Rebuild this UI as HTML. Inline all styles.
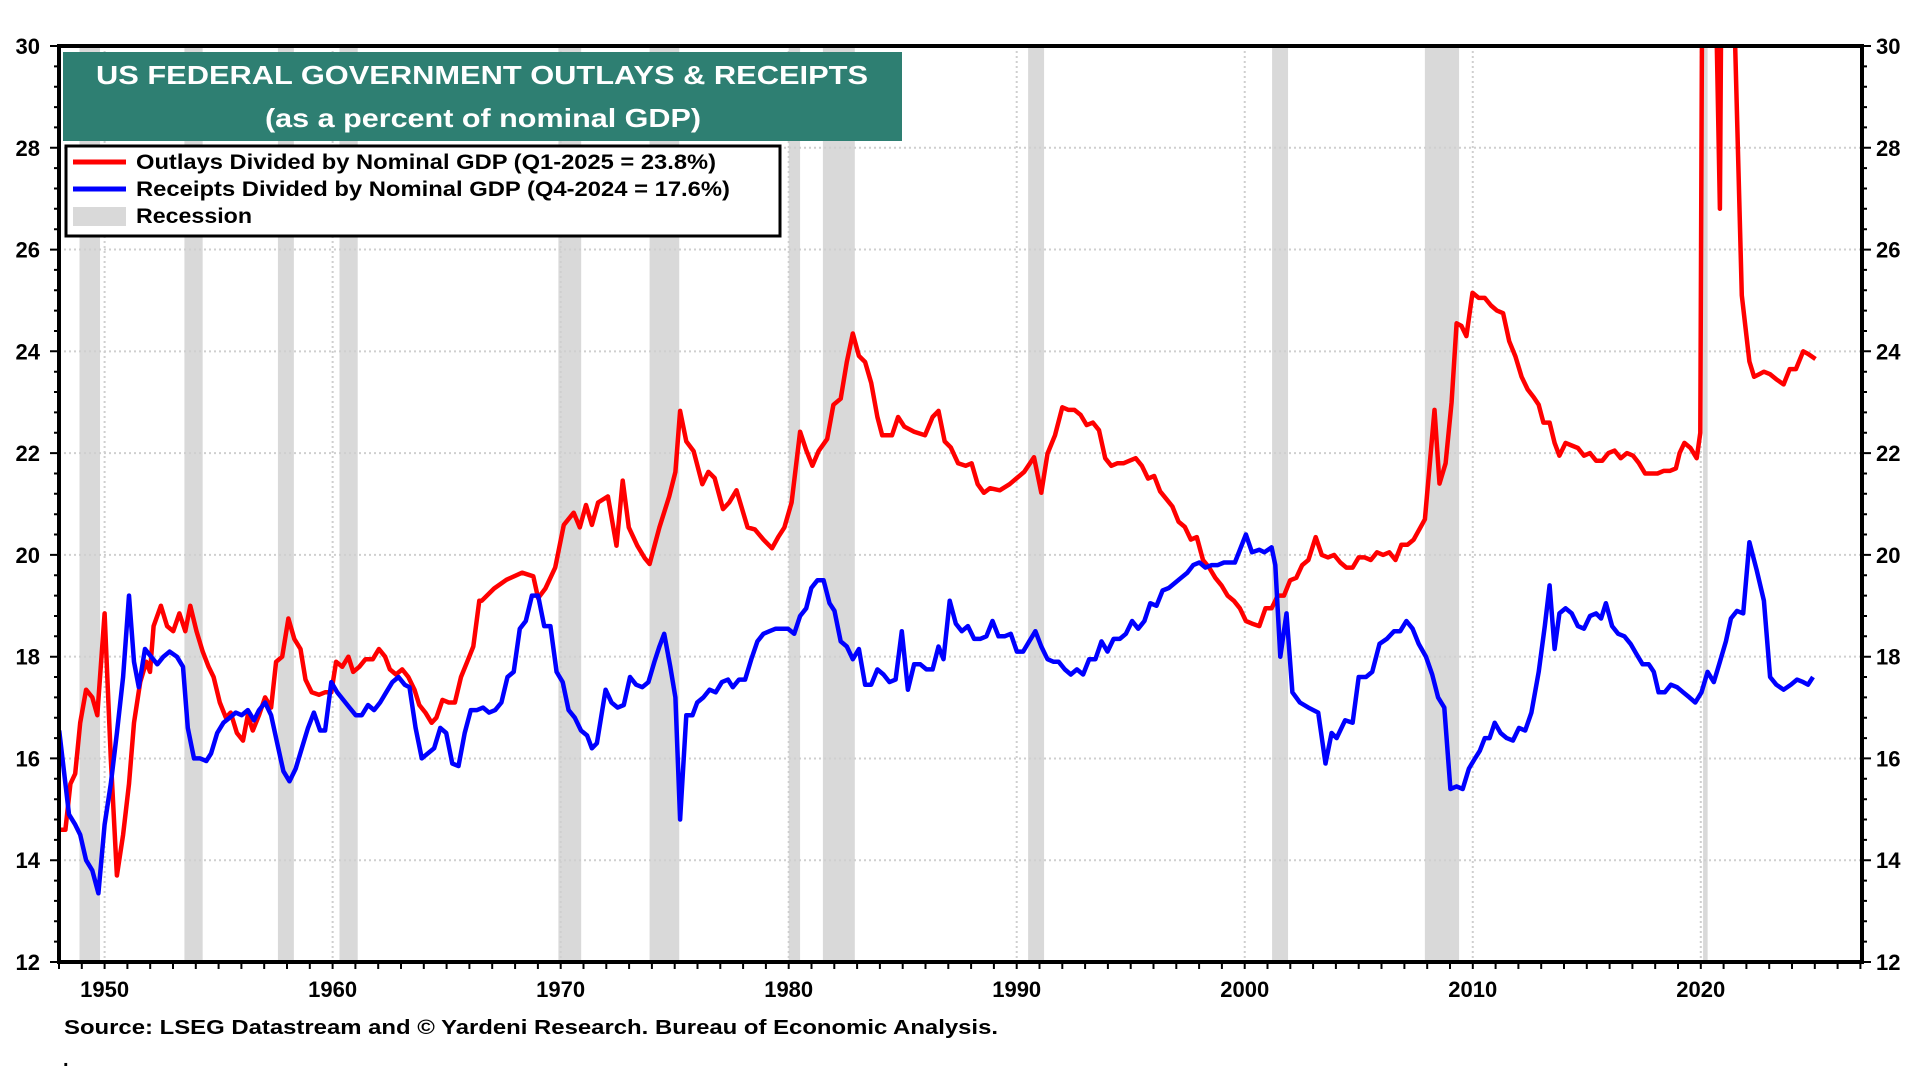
<!DOCTYPE html>
<html><head><meta charset="utf-8"><style>
html,body{margin:0;padding:0;background:#fff;}
svg{display:block;font-family:"Liberation Sans",Arial,sans-serif;font-weight:bold;}
</style></head><body>
<svg id="chart" width="1920" height="1080" viewBox="0 0 1920 1080" xmlns="http://www.w3.org/2000/svg">
<defs><clipPath id="plotclip"><rect x="59" y="46" width="1803" height="916"/></clipPath></defs>
<g id="bands" clip-path="url(#plotclip)"></g>
<g id="grid"></g>
<g id="series" clip-path="url(#plotclip)"></g>
<g id="axes"></g>
<g>
<rect x="63" y="52" width="839" height="89" fill="#2e7f72"/>
<text x="482" y="84" fill="#fff" font-size="26" text-anchor="middle" textLength="772" lengthAdjust="spacingAndGlyphs">US FEDERAL GOVERNMENT OUTLAYS &amp; RECEIPTS</text>
<text x="483" y="127" fill="#fff" font-size="26" font-weight="normal" style="font-weight:bold" text-anchor="middle" textLength="436" lengthAdjust="spacingAndGlyphs">(as a percent of nominal GDP)</text>
</g>
<g>
<rect x="66" y="146" width="714" height="90" fill="#fff" stroke="#000" stroke-width="3"/>
<line x1="73" y1="162" x2="126" y2="162" stroke="#ff0000" stroke-width="5"/>
<text x="136" y="169" font-size="21" textLength="580" lengthAdjust="spacingAndGlyphs">Outlays Divided by Nominal GDP (Q1-2025 = 23.8%)</text>
<line x1="73" y1="189" x2="126" y2="189" stroke="#0000ff" stroke-width="5"/>
<text x="136" y="196" font-size="21" textLength="594" lengthAdjust="spacingAndGlyphs">Receipts Divided by Nominal GDP (Q4-2024 = 17.6%)</text>
<rect x="73" y="207" width="53" height="19" fill="#d9d9d9"/>
<text x="136" y="223" font-size="21" textLength="116" lengthAdjust="spacingAndGlyphs">Recession</text>
</g>
<text x="64" y="1034" font-size="20" textLength="934" lengthAdjust="spacingAndGlyphs">Source: LSEG Datastream and © Yardeni Research. Bureau of Economic Analysis.</text>
<text x="63" y="1066" font-size="20">.</text>
</svg>
<script>
const recessionStarts=[1948.9,1953.5,1957.6,1960.3,1969.9,1973.9,1980.0,1981.5,1990.5,2001.2,2007.9,2020.1];
const recessionEnds=[1949.8,1954.3,1958.3,1961.1,1970.9,1975.2,1980.5,1982.9,1991.2,2001.9,2009.4,2020.3];
const xTickLabels=[1950,1960,1970,1980,1990,2000,2010,2020];
const yTickLabels=[12,14,16,18,20,22,24,26,28,30];
const outlayYears=[1948.01,1948.28,1948.5,1948.71,1948.93,1949.19,1949.46,1949.68,1950.0,1950.27,1950.54,1950.81,1951.07,1951.29,1951.56,1951.83,1951.99,1952.15,1952.47,1952.74,1953.01,1953.28,1953.54,1953.76,1954.03,1954.3,1954.56,1954.78,1955.05,1955.32,1955.53,1955.8,1956.07,1956.28,1956.5,1956.77,1957.04,1957.3,1957.52,1957.79,1958.06,1958.32,1958.59,1958.81,1959.08,1959.4,1959.67,1959.94,1960.15,1960.42,1960.69,1960.9,1961.17,1961.44,1961.76,1962.03,1962.3,1962.51,1962.78,1963.05,1963.32,1963.59,1963.8,1964.07,1964.34,1964.55,1964.82,1965.09,1965.36,1965.63,1965.9,1966.17,1966.43,1966.54,1967.08,1967.62,1968.31,1968.8,1969.01,1969.33,1969.76,1970.14,1970.57,1970.84,1971.11,1971.37,1971.64,1972.07,1972.45,1972.72,1972.99,1973.36,1973.68,1973.9,1974.33,1974.76,1975.03,1975.24,1975.51,1975.83,1976.21,1976.48,1976.75,1977.12,1977.39,1977.71,1978.2,1978.52,1978.89,1979.27,1979.54,1979.81,1980.13,1980.5,1980.77,1981.04,1981.31,1981.69,1981.96,1982.28,1982.55,1982.81,1983.08,1983.35,1983.62,1983.89,1984.1,1984.53,1984.8,1985.07,1985.5,1985.98,1986.31,1986.57,1986.84,1987.11,1987.43,1987.76,1988.02,1988.29,1988.56,1988.83,1989.26,1989.69,1990.01,1990.33,1990.76,1991.08,1991.35,1991.68,1992.0,1992.27,1992.53,1992.8,1993.07,1993.34,1993.61,1993.88,1994.15,1994.41,1994.68,1994.95,1995.22,1995.49,1995.76,1996.03,1996.29,1996.56,1996.83,1997.1,1997.37,1997.64,1997.9,1998.17,1998.44,1998.71,1998.98,1999.25,1999.52,1999.79,2000.05,2000.32,2000.64,2000.91,2001.18,2001.45,2001.72,2001.99,2002.26,2002.52,2002.79,2003.11,2003.38,2003.65,2003.92,2004.19,2004.46,2004.73,2005.0,2005.26,2005.53,2005.8,2006.07,2006.34,2006.61,2006.87,2007.14,2007.41,2007.9,2008.32,2008.54,2008.81,2009.07,2009.29,2009.5,2009.72,2009.99,2010.26,2010.53,2010.8,2011.06,2011.33,2011.6,2011.87,2012.14,2012.41,2012.67,2012.89,2013.1,2013.37,2013.59,2013.8,2014.07,2014.34,2014.61,2014.88,2015.14,2015.41,2015.68,2015.95,2016.22,2016.49,2016.76,2017.03,2017.29,2017.56,2017.83,2018.1,2018.37,2018.64,2018.91,2019.07,2019.28,2019.55,2019.82,2019.98,2020.14,2020.35,2020.62,2020.84,2021.0,2021.27,2021.48,2021.8,2022.13,2022.34,2022.56,2022.77,2023.04,2023.31,2023.63,2023.9,2024.17,2024.49,2024.7,2025.03];
const outlayValues=[14.6,14.6,15.5,15.7,16.7,17.35,17.2,16.85,18.85,16.0,13.7,14.5,15.5,16.7,17.5,17.9,17.7,18.6,19.0,18.6,18.5,18.85,18.5,19.0,18.5,18.1,17.8,17.6,17.1,16.8,16.9,16.5,16.35,16.85,16.55,16.85,17.2,17.0,17.9,18.0,18.75,18.35,18.15,17.55,17.3,17.25,17.3,17.3,17.9,17.8,18.0,17.7,17.8,17.95,17.95,18.15,18.0,17.75,17.65,17.75,17.6,17.35,17.05,16.9,16.7,16.8,17.15,17.1,17.1,17.6,17.9,18.2,19.1,19.1,19.34,19.51,19.65,19.58,19.15,19.34,19.75,20.59,20.83,20.54,20.98,20.59,21.03,21.15,20.18,21.46,20.54,20.18,19.94,19.82,20.54,21.15,21.63,22.83,22.23,22.04,21.39,21.63,21.51,20.9,21.03,21.27,20.54,20.5,20.3,20.13,20.35,20.54,21.03,22.42,22.06,21.75,22.04,22.28,22.95,23.07,23.79,24.35,23.91,23.79,23.38,22.71,22.35,22.35,22.71,22.52,22.42,22.35,22.71,22.83,22.23,22.11,21.8,21.75,21.8,21.39,21.22,21.31,21.27,21.39,21.51,21.63,21.92,21.22,21.99,22.35,22.9,22.85,22.85,22.75,22.55,22.6,22.45,21.9,21.75,21.8,21.8,21.85,21.9,21.75,21.5,21.55,21.25,21.1,20.95,20.65,20.55,20.3,20.35,19.9,19.75,19.55,19.4,19.2,19.1,18.95,18.7,18.65,18.6,18.95,18.95,19.2,19.2,19.5,19.55,19.8,19.9,20.35,20.0,19.95,20.0,19.85,19.75,19.75,19.95,19.95,19.9,20.05,20.0,20.05,19.9,20.2,20.2,20.3,20.7,22.85,21.4,21.8,23.0,24.55,24.5,24.3,25.15,25.05,25.05,24.9,24.8,24.75,24.2,23.9,23.5,23.25,23.1,22.95,22.6,22.6,22.2,21.95,22.2,22.15,22.1,21.95,22.0,21.85,21.85,22.0,22.05,21.9,22.0,21.95,21.8,21.6,21.6,21.6,21.65,21.65,21.7,22.0,22.2,22.1,21.9,22.4,40,34,32,26.8,38,33,30.5,25.1,23.8,23.5,23.55,23.6,23.55,23.45,23.35,23.65,23.65,24.0,23.95,23.85];
const receiptYears=[1948.01,1948.44,1948.71,1948.93,1949.19,1949.46,1949.73,1950.0,1950.27,1950.54,1950.81,1951.07,1951.29,1951.5,1951.77,1952.04,1952.31,1952.58,1952.85,1953.17,1953.44,1953.65,1953.92,1954.19,1954.46,1954.67,1954.94,1955.21,1955.48,1955.75,1956.01,1956.28,1956.55,1956.77,1957.04,1957.3,1957.57,1957.84,1958.11,1958.38,1958.65,1958.92,1959.18,1959.45,1959.67,1959.94,1960.2,1960.47,1960.74,1961.01,1961.28,1961.55,1961.82,1962.08,1962.35,1962.62,1962.89,1963.16,1963.37,1963.64,1963.91,1964.18,1964.45,1964.72,1964.98,1965.25,1965.52,1965.79,1966.06,1966.33,1966.6,1966.86,1967.13,1967.4,1967.67,1967.94,1968.21,1968.47,1968.74,1969.01,1969.28,1969.55,1969.82,1970.09,1970.35,1970.62,1970.89,1971.16,1971.37,1971.59,1971.97,1972.23,1972.5,1972.77,1973.04,1973.31,1973.58,1973.85,1974.11,1974.33,1974.54,1974.81,1975.03,1975.24,1975.51,1975.78,1975.99,1976.26,1976.53,1976.8,1977.07,1977.34,1977.55,1977.82,1978.09,1978.36,1978.63,1978.89,1979.16,1979.43,1979.7,1979.97,1980.24,1980.5,1980.77,1980.99,1981.26,1981.53,1981.79,1982.01,1982.28,1982.55,1982.81,1983.08,1983.35,1983.62,1983.89,1984.16,1984.42,1984.69,1984.96,1985.23,1985.5,1985.77,1986.04,1986.31,1986.57,1986.79,1987.06,1987.33,1987.59,1987.86,1988.13,1988.4,1988.67,1988.94,1989.2,1989.47,1989.74,1990.01,1990.28,1990.55,1990.82,1991.08,1991.35,1991.62,1991.84,1992.11,1992.37,1992.64,1992.91,1993.18,1993.45,1993.72,1993.98,1994.25,1994.52,1994.79,1995.06,1995.33,1995.6,1995.86,1996.13,1996.4,1996.67,1996.94,1997.21,1997.48,1997.74,1998.01,1998.28,1998.55,1998.82,1999.09,1999.57,2000.05,2000.32,2000.64,2000.86,2001.18,2001.34,2001.56,2001.83,2002.09,2002.42,2002.79,2003.22,2003.54,2003.81,2004.03,2004.4,2004.73,2005.0,2005.32,2005.59,2005.91,2006.23,2006.55,2006.82,2007.09,2007.36,2007.63,2007.95,2008.22,2008.48,2008.75,2009.02,2009.29,2009.56,2009.83,2010.1,2010.31,2010.53,2010.74,2010.96,2011.22,2011.49,2011.76,2012.03,2012.3,2012.57,2012.89,2013.16,2013.37,2013.59,2013.8,2014.07,2014.34,2014.61,2014.88,2015.14,2015.41,2015.63,2015.84,2016.11,2016.38,2016.65,2016.92,2017.18,2017.45,2017.72,2017.94,2018.15,2018.42,2018.69,2018.96,2019.23,2019.5,2019.76,2020.03,2020.3,2020.57,2020.84,2021.1,2021.32,2021.59,2021.86,2022.13,2022.45,2022.77,2023.04,2023.31,2023.63,2023.95,2024.22,2024.49,2024.7,2024.92];
const receiptValues=[16.55,14.9,14.7,14.5,14.0,13.8,13.35,14.7,15.5,16.5,17.6,19.2,17.9,17.4,18.15,18.0,17.85,18.0,18.1,18.0,17.8,16.6,16.0,16.0,15.95,16.1,16.5,16.7,16.8,16.9,16.85,16.95,16.75,16.95,17.1,16.85,16.3,15.75,15.55,15.8,16.2,16.6,16.9,16.55,16.55,17.5,17.3,17.15,17.0,16.85,16.85,17.05,16.95,17.1,17.3,17.5,17.6,17.45,17.4,16.6,16.0,16.1,16.2,16.6,16.5,15.9,15.85,16.5,16.95,16.95,17.0,16.9,16.95,17.1,17.6,17.7,18.55,18.7,19.2,19.2,18.6,18.6,17.7,17.5,16.95,16.8,16.55,16.45,16.2,16.3,17.35,17.1,17.0,17.05,17.6,17.45,17.4,17.5,17.9,18.2,18.45,17.8,17.2,14.8,16.85,16.85,17.1,17.2,17.35,17.3,17.5,17.55,17.4,17.55,17.55,17.95,18.3,18.45,18.5,18.55,18.55,18.55,18.45,18.8,18.95,19.35,19.5,19.5,19.05,18.9,18.3,18.2,17.95,18.15,17.45,17.45,17.75,17.65,17.5,17.55,18.5,17.35,17.85,17.85,17.75,17.75,18.2,17.95,19.1,18.65,18.5,18.6,18.35,18.35,18.4,18.7,18.4,18.4,18.45,18.1,18.1,18.3,18.5,18.2,17.95,17.9,17.9,17.75,17.65,17.75,17.65,17.95,17.95,18.3,18.1,18.35,18.35,18.45,18.7,18.55,18.7,19.05,19.0,19.3,19.35,19.45,19.55,19.65,19.8,19.85,19.75,19.8,19.8,19.85,19.85,20.4,20.05,20.1,20.05,20.15,19.8,18.0,18.85,17.3,17.1,17.0,16.9,15.9,16.5,16.4,16.75,16.7,17.6,17.6,17.7,18.25,18.35,18.5,18.5,18.7,18.55,18.25,18.0,17.65,17.2,17.0,15.4,15.45,15.4,15.8,16.0,16.15,16.4,16.4,16.7,16.5,16.4,16.35,16.6,16.55,16.9,17.7,18.6,19.4,18.15,18.85,18.95,18.85,18.6,18.55,18.8,18.85,18.75,19.05,18.6,18.45,18.4,18.25,18.05,17.85,17.85,17.7,17.3,17.3,17.45,17.4,17.3,17.2,17.1,17.3,17.7,17.5,17.9,18.3,18.75,18.9,18.85,20.25,19.7,19.1,17.6,17.45,17.35,17.45,17.55,17.5,17.45,17.6];

const NS='http://www.w3.org/2000/svg';
const X0=59,X1=1862,Y0=46,Y1=962,YMIN=12,YMAX=30,T0=1948.0,T1=2027.07;
function xs(t){return X0+(t-T0)/(T1-T0)*(X1-X0);}
function ys(v){return Y1-(v-YMIN)/(YMAX-YMIN)*(Y1-Y0);}
function mk(tag,attrs,parent){const e=document.createElementNS(NS,tag);for(const k in attrs)e.setAttribute(k,attrs[k]);parent.appendChild(e);return e;}
const bands=document.getElementById('bands'),grid=document.getElementById('grid'),series=document.getElementById('series'),axes=document.getElementById('axes');
recessionStarts.forEach((s,i)=>{
 const r=mk('rect',{x:xs(s),y:Y0,width:xs(recessionEnds[i])-xs(s),height:Y1-Y0,fill:'#d9d9d9'},bands);
 
 
});
yTickLabels.forEach(v=>{
 if(v>YMIN&&v<YMAX){const l=mk('line',{x1:X0,x2:X1,y1:ys(v),y2:ys(v),stroke:'#cfcfcf','stroke-width':2,'stroke-dasharray':'2 3'},grid);
 
 }
 const a=mk('text',{x:40,y:ys(v)+8,'font-size':22,'text-anchor':'end'},axes);a.textContent=v;
 
 
 const b=mk('text',{x:1876,y:ys(v)+8,'font-size':22},axes);b.textContent=v;
 
 
});
xTickLabels.forEach(t=>{
 const l=mk('line',{x1:xs(t),x2:xs(t),y1:Y0,y2:Y1,stroke:'#cfcfcf','stroke-width':2,'stroke-dasharray':'2 3'},grid);
 
 
 const a=mk('text',{x:xs(t),y:997,'font-size':22,'text-anchor':'middle'},axes);a.textContent=t;
 
 
});
function path(ts,vs,color,name){
 let d='';ts.forEach((t,i)=>{d+=(i?'L':'M')+xs(t).toFixed(1)+','+ys(vs[i]).toFixed(1);});
 const p=mk('path',{d:d,fill:'none',stroke:color,'stroke-width':4.5,'stroke-linejoin':'round'},series);
 
 
}
path(outlayYears,outlayValues,'#ff0000','outlays-line');
path(receiptYears,receiptValues,'#0000ff','receipts-line');
// ticks
let td='';
for(let v=YMIN;v<=YMAX+0.001;v+=0.4){const y=ys(v).toFixed(1);const major=Math.abs(v/2-Math.round(v/2))<0.01;const L=major?9:5;td+=`M${X0-L},${y}H${X0}M${X1},${y}H${X1+L}`;}
for(let t=1948;t<=2027;t++){td+=`M${xs(t).toFixed(1)},${Y1}V${Y1+7}`;}
const tk=mk('path',{d:td,stroke:'#000','stroke-width':2,fill:'none'},axes);


const fr=mk('rect',{x:X0,y:Y0,width:X1-X0,height:Y1-Y0,fill:'none',stroke:'#000','stroke-width':4},axes);


</script>
</body></html>
